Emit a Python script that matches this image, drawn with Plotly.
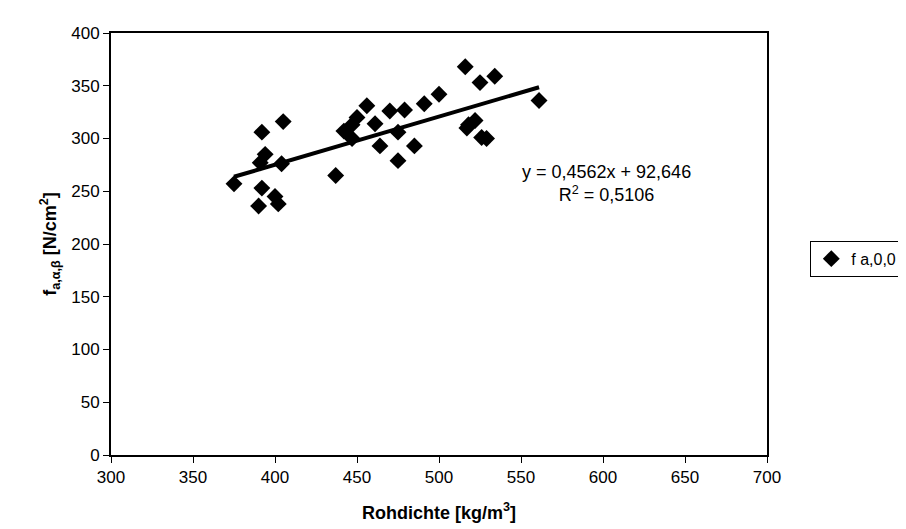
import plotly.graph_objects as go

# Data
rohdichte = [375, 390, 391, 392, 392, 394, 400, 402, 404, 405,
             437, 442, 447, 447, 450, 456, 461, 464, 470, 475,
             475, 479, 485, 491, 500, 516, 517, 518, 522, 525,
             526, 529, 534, 561]
festigkeit = [257, 236, 277, 253, 306, 285, 245, 238, 276, 316,
              265, 307, 300, 313, 320, 331, 314, 293, 326, 306,
              279, 327, 293, 333, 342, 368, 310, 313, 317, 353,
              301, 300, 359, 336]

trend_slope = 0.4562
trend_intercept = 92.646
trend_x = [min(rohdichte), max(rohdichte)]
trend_y = [trend_slope * v + trend_intercept for v in trend_x]

x_ticks = [300, 350, 400, 450, 500, 550, 600, 650, 700]
y_ticks = [0, 50, 100, 150, 200, 250, 300, 350, 400]

FONT = "Liberation Sans, Arial, sans-serif"

fig = go.Figure()
fig.add_trace(go.Scatter(
    x=trend_x, y=trend_y, mode="lines",
    line=dict(color="black", width=4),
    showlegend=False, hoverinfo="skip"))
fig.add_trace(go.Scatter(
    x=rohdichte, y=festigkeit, mode="markers", name="f a,0,0",
    marker=dict(symbol="diamond", size=13, color="black")))

fig.add_annotation(x=602, y=257, xref="x", yref="y", showarrow=False,
                   text="y = 0,4562x + 92,646<br>R<sup>2</sup> = 0,5106",
                   font=dict(family=FONT, size=18, color="black"), align="center")

fig.update_layout(
    width=906, height=529,
    margin=dict(l=103, r=137, t=25, b=82),
    paper_bgcolor="white", plot_bgcolor="white",
    font=dict(family=FONT, size=17, color="black"),
    showlegend=True,
    legend=dict(x=1.066, y=0.465, xanchor="left", yanchor="middle",
                bordercolor="black", borderwidth=1, bgcolor="white",
                font=dict(family=FONT, size=16, color="black"),
                itemwidth=30, entrywidth=100, entrywidthmode="pixels"),
    xaxis=dict(range=[300, 700], tickvals=x_ticks, showgrid=False, zeroline=False,
               showline=True, linecolor="black", linewidth=2, mirror=True,
               ticks="outside", ticklen=6, tickcolor="black",
               tickfont=dict(family=FONT, size=17),
               title=dict(text="<b>Rohdichte [kg/m<sup>3</sup>]</b>", standoff=20,
                          font=dict(family=FONT, size=18))),
    yaxis=dict(range=[0, 400], tickvals=y_ticks, showgrid=False, zeroline=False,
               showline=True, linecolor="black", linewidth=2, mirror=True,
               ticks="outside", ticklen=6, tickcolor="black",
               tickfont=dict(family=FONT, size=17),
               title=dict(text="<b>f<sub>a,α,β</sub> [N/cm<sup>2</sup>]</b>", standoff=10,
                          font=dict(family=FONT, size=18))),
)

fig.write_html("out.html")
